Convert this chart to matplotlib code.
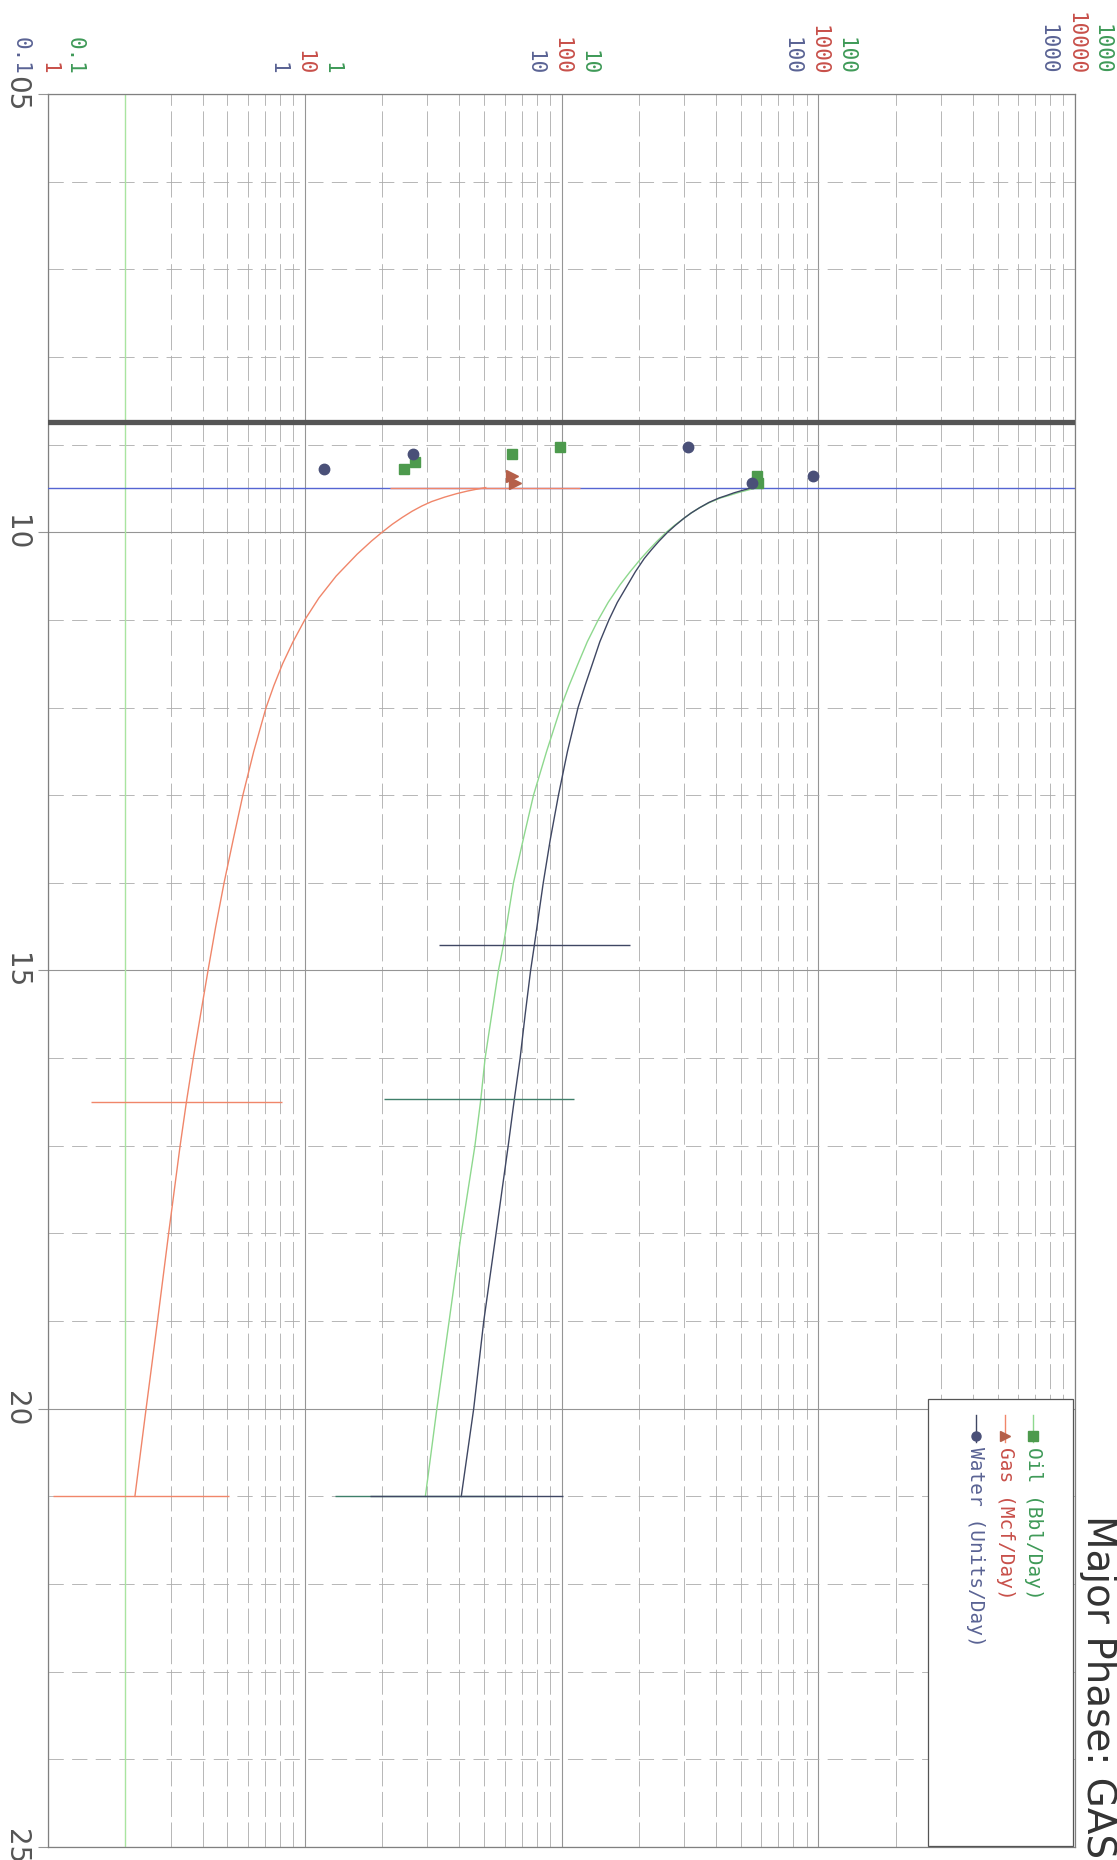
import matplotlib
matplotlib.use("Agg")
import matplotlib.pyplot as plt
import matplotlib.transforms as mtransforms
from matplotlib.ticker import LogLocator, FixedLocator, MultipleLocator, NullLocator
from matplotlib.patches import Rectangle
from matplotlib.lines import Line2D

plt.rcParams['lines.scale_dashes'] = False

W, H, DPI = 1117, 1860, 100

# ---------------- data ----------------
title = "Major Phase: GAS"
time_ticks = [5, 10, 15, 20, 25]
time_labels = ["05", "10", "15", "20", "25"]
oil_ticks = [0.1, 1, 10, 100, 1000]
oil_tick_labels = ["0.1", "1", "10", "100", "1000"]
gas_ticks = [1, 10, 100, 1000, 10000]
gas_tick_labels = ["1", "10", "100", "1000", "10000"]
water_ticks = [0.1, 1, 10, 100, 1000]
water_tick_labels = ["0.1", "1", "10", "100", "1000"]
legend_labels = ["Oil (Bbl/Day)", "Gas (Mcf/Day)", "Water (Units/Day)"]

today_t = 8.74
forecast_start_t = 9.49
oil_limit = 0.2

# monthly history
oil_hist_t = [9.03, 9.11, 9.20, 9.28, 9.36, 9.44]
oil_hist = [9.9, 6.4, 2.69, 2.44, 57.8, 58.5]
gas_hist_t = [9.36, 9.44]
gas_hist = [64, 66]
water_hist_t = [9.03, 9.11, 9.28, 9.36, 9.44]
water_hist = [31, 2.65, 1.19, 95, 55.2]

# forecasts
oil_fc_t = [9.49, 9.52, 9.55, 9.58, 9.61, 9.66, 9.72, 9.78, 9.84, 9.92, 10.0, 10.1,
            10.2, 10.3, 10.45, 10.6, 10.8, 11.0, 11.25, 11.5, 11.75, 12.0, 12.5, 13.0,
            13.5, 14.0, 14.71, 15.0, 15.5, 16.0, 16.47, 17.0, 18.0, 19.0, 20.0, 21.0]
oil_fc = [58, 53, 48.5, 45, 41.5, 37.8, 34.5, 32, 30, 27.6, 25.6, 23.6,
          21.9, 20.4, 18.5, 16.9, 15.2, 13.9, 12.6, 11.6, 10.7, 9.93, 8.75, 7.78,
          7.1, 6.5, 5.94, 5.68, 5.35, 5.04, 4.85, 4.6, 4.07, 3.65, 3.27, 2.95]
water_fc_t = [9.49, 9.52, 9.55, 9.58, 9.61, 9.66, 9.72, 9.78, 9.84, 9.92, 10.0, 10.1,
              10.2, 10.3, 10.45, 10.6, 10.8, 11.0, 11.25, 11.5, 11.75, 12.0, 12.5, 13.0,
              13.5, 14.0, 14.71, 15.0, 15.5, 16.0, 16.47, 17.0, 17.5, 18.0, 19.0, 20.0, 21.0]
water_fc = [55.5, 51, 47, 44, 41, 37.5, 34.5, 32, 30, 27.8, 25.9, 24.0,
            22.4, 21.0, 19.4, 18.1, 16.5, 15.3, 14.1, 13.2, 12.35, 11.6, 10.55, 9.73,
            9.05, 8.49, 7.84, 7.58, 7.22, 6.9, 6.55, 6.2, 5.87, 5.56, 4.98, 4.55, 4.07]
gas_fc_t = [9.49, 9.51, 9.53, 9.56, 9.60, 9.65, 9.70, 9.76, 9.83, 9.91, 10.0, 10.1,
            10.25, 10.5, 10.75, 11.0, 11.25, 11.5, 11.75, 12.0, 12.5, 13.0, 13.5, 14.0,
            14.5, 15.0, 15.5, 16.0, 16.5, 17.0, 18.0, 19.0, 20.0, 21.0]
gas_fc = [50.7, 46.5, 43, 39, 35, 31.2, 28.6, 26.2, 24.0, 21.9, 20.0, 18.2,
          16.0, 13.25, 11.35, 10.0, 9.0, 8.2, 7.58, 7.07, 6.33, 5.74, 5.27, 4.85,
          4.5, 4.2, 3.93, 3.68, 3.46, 3.27, 2.95, 2.67, 2.41, 2.18]

# marker segments
gas_seg_t = [9.49, 16.5, 21.0]
gas_seg_lo = [21.5, 1.47, 1.05]
gas_seg_hi = [118, 8.16, 5.09]
oil_seg_t = [16.47, 21.0]
oil_seg_lo = [2.04, 1.31]
oil_seg_hi = [11.2, 6.9]
water_seg_t = [14.71, 21.0]
water_seg_lo = [3.34, 1.79]
water_seg_hi = [18.5, 10.1]

# ---------------- styles ----------------
C_OIL_TXT = '#3f9a58'
C_OIL_MK = '#4d9a4d'
C_OIL_LN = '#8ed88e'
C_OIL_SEG = '#3f7f6a'
C_GAS_TXT = '#c8504a'
C_GAS_MK = '#b5604a'
C_GAS_LN = '#f0866a'
C_WAT_TXT = '#5a6394'
C_WAT_MK = '#4a5078'
C_WAT_LN = '#3f4763'
GRID = '#959595'
MINOR = '#ababab'


def fx(x):
    return x / W


def fy(y):
    return 1 - y / H


fig = plt.figure(figsize=(W / DPI, H / DPI), dpi=DPI)
ax = fig.add_axes([fx(48), fy(1847), (1075 - 48) / W, (1847 - 94) / H])
ax.set_xscale('log')
ax.set_xlim(0.1, 1000)
ax.set_ylim(25, 5)

ax.xaxis.set_major_locator(FixedLocator(oil_ticks))
ax.xaxis.set_minor_locator(LogLocator(base=10, subs=range(2, 10), numticks=30))
ax.yaxis.set_major_locator(FixedLocator(time_ticks))
ax.yaxis.set_minor_locator(MultipleLocator(1))
ax.grid(which='major', axis='both', color=GRID, lw=0.8, ls='-')
ax.grid(which='minor', axis='x', color=MINOR, lw=0.6, ls=(0, (18, 4)))
ax.grid(which='minor', axis='y', color=MINOR, lw=0.6, ls=(0, (11, 6)))
ax.set_axisbelow(True)
ax.tick_params(axis='x', which='both', length=0, labelbottom=False, labeltop=False,
               top=False, bottom=False)
ax.tick_params(axis='y', which='major', direction='out', length=7, width=0.8,
               color=GRID, labelleft=False)
ax.tick_params(axis='y', which='minor', length=0)
for s in ax.spines.values():
    s.set_color('#808080')
    s.set_linewidth(0.9)

ax_g = ax.twiny()
ax_g.set_xscale('log')
ax_g.set_xlim(1, 10000)
ax_g.xaxis.set_major_locator(NullLocator())
ax_g.xaxis.set_minor_locator(NullLocator())
ax_g.tick_params(axis='both', which='both', length=0, labeltop=False, labelbottom=False)
for s in ax_g.spines.values():
    s.set_visible(False)

# reference lines
ax.axvline(oil_limit, color='#a9e4a0', lw=1.0, zorder=2)
ax.axhline(today_t, color='#555555', lw=3.8, zorder=3)
ax.axhline(forecast_start_t, color='#5565d2', lw=1.0, zorder=3)

# forecasts
ax.plot(oil_fc, oil_fc_t, color=C_OIL_LN, lw=1.0, zorder=4)
ax.plot(water_fc, water_fc_t, color=C_WAT_LN, lw=1.0, zorder=4)
ax_g.plot(gas_fc, gas_fc_t, color=C_GAS_LN, lw=1.0, zorder=4)

# segments
ax.hlines(oil_seg_t, oil_seg_lo, oil_seg_hi, color=C_OIL_SEG, lw=1.0, zorder=4)
ax.hlines(water_seg_t, water_seg_lo, water_seg_hi, color=C_WAT_LN, lw=1.0, zorder=4)
ax_g.hlines(gas_seg_t, gas_seg_lo, gas_seg_hi, color=C_GAS_LN, lw=1.0, zorder=4)

# history markers
ax.plot(oil_hist, oil_hist_t, ls='none', marker='s', ms=7, color=C_OIL_MK, zorder=5)
ax.plot(water_hist, water_hist_t, ls='none', marker='o', ms=7.5, color=C_WAT_MK, zorder=5)
ax_g.plot(gas_hist, gas_hist_t, ls='none', marker='>', ms=8, color=C_GAS_MK, zorder=5)

# value tick labels (three colored rows)
mono = 'DejaVu Sans Mono'
TFS = 15
tr_o = mtransforms.blended_transform_factory(ax.transData, ax.transAxes)
tr_g = mtransforms.blended_transform_factory(ax_g.transData, ax_g.transAxes)
for v, lab in zip(water_ticks, water_tick_labels):
    ax.text(v, 1.0, lab, transform=mtransforms.offset_copy(tr_o, fig=fig, x=-27, y=19, units='dots'),
            rotation=-90, ha='center', va='bottom', color=C_WAT_TXT, fontsize=TFS,
            family=mono, clip_on=False)
for v, lab in zip(gas_ticks, gas_tick_labels):
    ax_g.text(v, 1.0, lab, transform=mtransforms.offset_copy(tr_g, fig=fig, x=0, y=19, units='dots'),
              rotation=-90, ha='center', va='bottom', color=C_GAS_TXT, fontsize=TFS,
              family=mono, clip_on=False)
for v, lab in zip(oil_ticks, oil_tick_labels):
    ax.text(v, 1.0, lab, transform=mtransforms.offset_copy(tr_o, fig=fig, x=27, y=19, units='dots'),
            rotation=-90, ha='center', va='bottom', color=C_OIL_TXT, fontsize=TFS,
            family=mono, clip_on=False)

# time labels
tr_t = mtransforms.blended_transform_factory(ax.transAxes, ax.transData)
for t, lab in zip(time_ticks, time_labels):
    ax.text(0, t, lab, transform=mtransforms.offset_copy(tr_t, fig=fig, x=-18, y=0, units='dots'),
            rotation=-90, ha='right', va='center', color='#555555', fontsize=20, clip_on=False)

# title
fig.text(fx(1098), fy(1858), title, rotation=-90, ha='center', va='bottom',
         fontsize=28, color='#333333')

# legend (rotated, drawn manually)
box = Rectangle((fx(928), fy(1846)), (1073 - 928) / W, (1846 - 1399) / H,
                transform=fig.transFigure, facecolor='white', edgecolor='#555555',
                lw=0.9, zorder=10)
fig.add_artist(box)
leg_x = [1033, 1005, 976]
leg_mk = ['s', '>', 'o']
leg_mc = [C_OIL_MK, C_GAS_MK, C_WAT_MK]
leg_lc = [C_OIL_LN, C_GAS_LN, C_WAT_LN]
leg_tc = [C_OIL_TXT, C_GAS_TXT, C_WAT_TXT]
for x, mk, mc, lc, tc, lab in zip(leg_x, leg_mk, leg_mc, leg_lc, leg_tc, legend_labels):
    fig.add_artist(Line2D([fx(x), fx(x)], [fy(1415), fy(1442)], transform=fig.transFigure,
                          color=lc, lw=1.0, zorder=11))
    fig.add_artist(Line2D([fx(x)], [fy(1436)], transform=fig.transFigure, ls='none',
                          marker=mk, ms=6.5, color=mc, zorder=12))
    fig.text(fx(x), fy(1447), lab, rotation=-90, ha='center', va='top', fontsize=14,
             family=mono, color=tc, zorder=12)

fig.savefig('out.png', dpi=DPI)
